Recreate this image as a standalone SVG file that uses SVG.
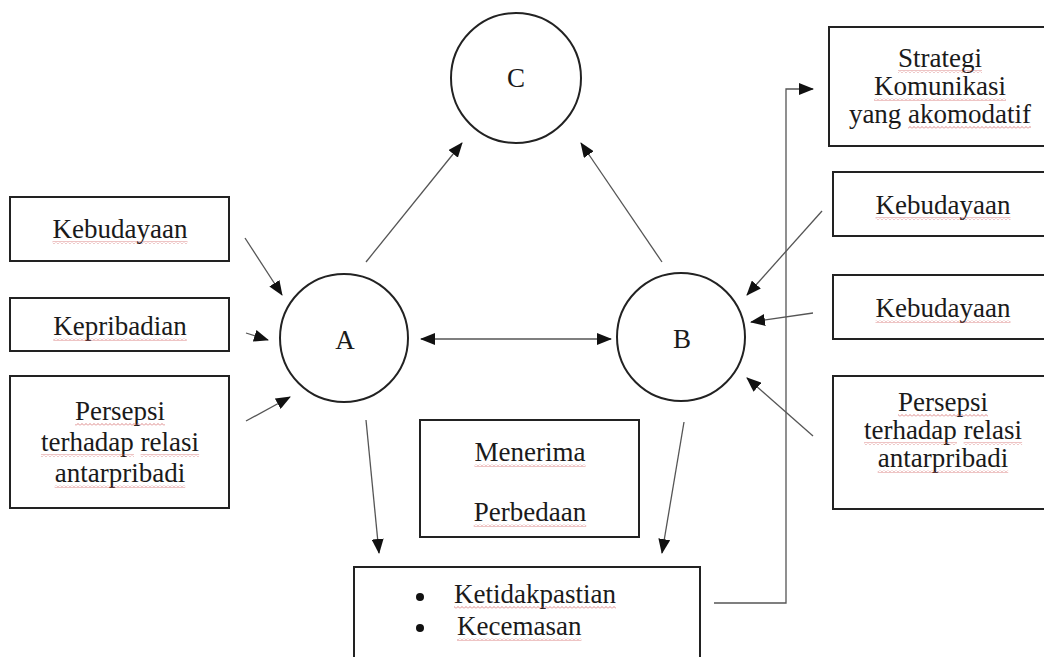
<svg xmlns="http://www.w3.org/2000/svg" width="1044" height="657" viewBox="0 0 1044 657">
<style>
text{font-family:"Liberation Serif","Times New Roman",serif;font-size:27px;fill:#1a1a1a}
.m{text-anchor:middle}
.box{fill:#fff;stroke:#222;stroke-width:2}
.circ{fill:#fff;stroke:#222;stroke-width:2}
.con{fill:none;stroke:#555;stroke-width:1.3}
.sq{fill:url(#wv)}
</style>
<defs>
<marker id="ah" markerUnits="userSpaceOnUse" markerWidth="15" markerHeight="12" viewBox="0 0 15 12" refX="14" refY="6" orient="auto-start-reverse">
<path d="M0,0 L15,6 L0,12 Z" fill="#111"/>
</marker>
<pattern id="wv" width="4" height="3" patternUnits="userSpaceOnUse">
<path d="M0 2.5 L2 0.5 L4 2.5" fill="none" stroke="#d05a5a" stroke-width="0.9" opacity="0.8"/>
</pattern>
</defs>
<rect width="1044" height="657" fill="#fff"/>
<g id="connectors">
<line class="con" x1="366" y1="262" x2="462" y2="143" marker-end="url(#ah)"/>
<line class="con" x1="662" y1="262" x2="581" y2="143" marker-end="url(#ah)"/>
<line class="con" x1="421" y1="339" x2="611" y2="339" marker-start="url(#ah)" marker-end="url(#ah)"/>
<line class="con" x1="366" y1="420" x2="379" y2="553" marker-end="url(#ah)"/>
<line class="con" x1="684" y1="422" x2="662" y2="553" marker-end="url(#ah)"/>
<line class="con" x1="245" y1="238" x2="282" y2="295" marker-end="url(#ah)"/>
<line class="con" x1="246" y1="333" x2="268" y2="340" marker-end="url(#ah)"/>
<line class="con" x1="246" y1="421" x2="290" y2="397" marker-end="url(#ah)"/>
<line class="con" x1="822" y1="211" x2="747" y2="295" marker-end="url(#ah)"/>
<line class="con" x1="813" y1="313" x2="751" y2="322" marker-end="url(#ah)"/>
<line class="con" x1="813" y1="436" x2="747" y2="378" marker-end="url(#ah)"/>
<polyline class="con" points="714,603 786,603 786,89 813,89" marker-end="url(#ah)"/>
</g>
<g id="node-C">
<circle class="circ" cx="516" cy="78" r="65"/>
<text class="m" x="516" y="87">C</text>
</g>
<g id="node-A">
<circle class="circ" cx="344" cy="338" r="64"/>
<text class="m" x="345" y="349">A</text>
</g>
<g id="node-B">
<circle class="circ" cx="681" cy="337" r="64"/>
<text class="m" x="682" y="348">B</text>
</g>
<g id="node-left-kebudayaan">
<rect class="box" x="10" y="197" width="219" height="64"/>
<text class="m" x="120" y="238">Kebudayaan</text>
<rect class="sq" x="52.5" y="241" width="135" height="3"/>
</g>
<g id="node-kepribadian">
<rect class="box" x="10" y="298" width="219" height="53"/>
<text class="m" x="120" y="335">Kepribadian</text>
<rect class="sq" x="53.3" y="338" width="133.5" height="3"/>
</g>
<g id="node-left-persepsi">
<rect class="box" x="10" y="376" width="219" height="132"/>
<text class="m" x="120" y="420">Persepsi</text>
<text class="m" x="120" y="451">terhadap relasi</text>
<text class="m" x="120" y="482">antarpribadi</text>
<rect class="sq" x="75" y="423" width="90" height="3"/>
<rect class="sq" x="41" y="454" width="93" height="3"/>
<rect class="sq" x="140.6" y="454" width="58.5" height="3"/>
<rect class="sq" x="54.7" y="485" width="130.5" height="3"/>
</g>
<g id="node-strategi">
<rect class="box" x="829" y="27" width="230" height="119"/>
<text class="m" x="940" y="67">Strategi</text>
<text class="m" x="940" y="95">Komunikasi</text>
<text class="m" x="940" y="123">yang akomodatif</text>
<rect class="sq" x="898" y="70" width="84" height="3"/>
<rect class="sq" x="874" y="98" width="132" height="3"/>
<rect class="sq" x="908" y="126" width="123" height="3"/>
</g>
<g id="node-right-kebudayaan-1">
<rect class="box" x="833" y="172" width="220" height="64"/>
<text class="m" x="943" y="214">Kebudayaan</text>
<rect class="sq" x="875.5" y="217" width="135" height="3"/>
</g>
<g id="node-right-kebudayaan-2">
<rect class="box" x="833" y="275" width="220" height="64"/>
<text class="m" x="943" y="317">Kebudayaan</text>
<rect class="sq" x="875.5" y="320" width="135" height="3"/>
</g>
<g id="node-right-persepsi">
<rect class="box" x="833" y="376" width="220" height="133"/>
<text class="m" x="943" y="411">Persepsi</text>
<text class="m" x="943" y="439">terhadap relasi</text>
<text class="m" x="943" y="467">antarpribadi</text>
<rect class="sq" x="898" y="414" width="90" height="3"/>
<rect class="sq" x="864" y="442" width="93" height="3"/>
<rect class="sq" x="963.6" y="442" width="58.5" height="3"/>
<rect class="sq" x="877.7" y="470" width="130.5" height="3"/>
</g>
<g id="node-menerima">
<rect class="box" x="420" y="420" width="219" height="117"/>
<text class="m" x="530" y="461">Menerima</text>
<text class="m" x="530" y="521">Perbedaan</text>
<rect class="sq" x="474.5" y="464" width="111" height="3"/>
<rect class="sq" x="473.7" y="524" width="112.5" height="3"/>
</g>
<g id="node-ketidakpastian">
<rect class="box" x="354" y="567" width="346" height="110"/>
<circle cx="420" cy="597" r="4" fill="#111"/>
<circle cx="420" cy="628" r="4" fill="#111"/>
<text x="454" y="603">Ketidakpastian</text>
<text x="457" y="635">Kecemasan</text>
<rect class="sq" x="454" y="606" width="162" height="3"/>
<rect class="sq" x="457" y="638" width="124.4" height="3"/>
</g>
</svg>
